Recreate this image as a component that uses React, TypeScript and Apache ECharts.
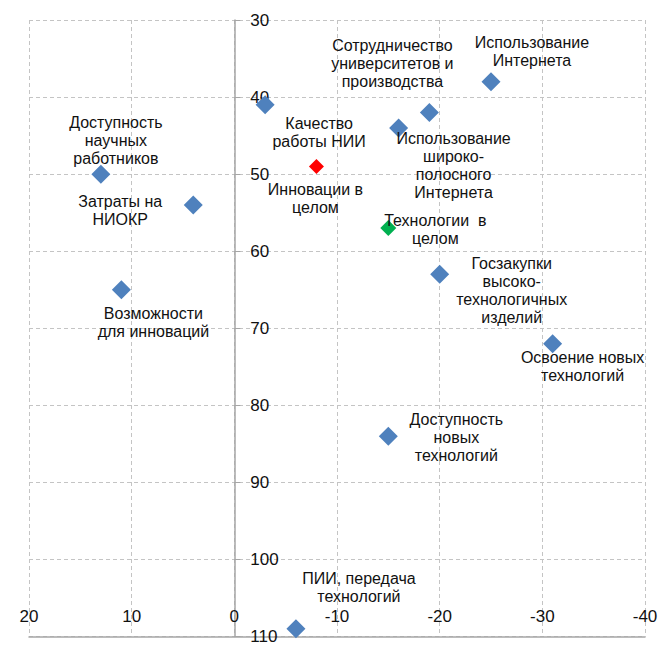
import React, { useEffect, useRef } from "react";
import * as echarts from "echarts";

// Data
const pointNames: string[] = [
  "Доступность\nнаучных\nработников",
  "Затраты на\nНИОКР",
  "Возможности\nдля инноваций",
  "Качество\nработы НИИ",
  "Сотрудничество\nуниверситетов и\nпроизводства",
  "Использование\nИнтернета",
  "Использование\nшироко-\nполосного\nИнтернета",
  "Госзакупки\nвысоко-\nтехнологичных\nизделий",
  "Освоение новых\nтехнологий",
  "Доступность\nновых\nтехнологий",
  "ПИИ, передача\nтехнологий",
];
const pointX: number[] = [13, 4, 11, -3, -19, -25, -16, -20, -31, -15, -6];
const pointY: number[] = [50, 54, 65, 41, 42, 38, 44, 63, 72, 84, 109];

const innovationName = "Инновации в\nцелом";
const innovationX = -8;
const innovationY = 49;

const technologyName = "Технологии  в\nцелом";
const technologyX = -15;
const technologyY = 57;

const xTicks = { min: -40, max: 20, interval: 10 };
const yTicks = { min: 30, max: 110, interval: 10 };

// Label placement (pixel offsets from marker centre) — styling only
const pointLabelOffsets: [number, number][] = [
  [15, -34],
  [-73, 6],
  [32, 33],
  [54, 28],
  [-37, -49],
  [41, -30],
  [55, 38],
  [72, 16],
  [30, 23],
  [68, 1],
  [63, -41],
];
const innovationOffset: [number, number] = [-1, 32];
const technologyOffset: [number, number] = [47, 1];

const FONT = "'Liberation Sans', Arial, sans-serif";
const TEXT_COLOR = "#111111";

const GRID_LEFT = 29;
const GRID_RIGHT = 16;
const CHART_W = 661;

const labelStyle = (offset: [number, number]) => ({
  show: true,
  position: "inside" as const,
  offset,
  align: "center" as const,
  verticalAlign: "middle" as const,
  color: TEXT_COLOR,
  fontFamily: FONT,
  fontSize: 16,
  lineHeight: 18,
  formatter: (p: any) => p.name,
});

export default function App() {
  const ref = useRef<HTMLDivElement>(null);

  useEffect(() => {
    if (!ref.current) return;
    const chart = echarts.init(ref.current, undefined, { renderer: "svg" });

    const mainData = pointNames.map((n, i) => ({
      name: n,
      value: [pointX[i], pointY[i]],
      label: labelStyle(pointLabelOffsets[i]),
    }));

    // y axis sits at x = 0 of the (inverted) x axis
    const plotW = CHART_W - GRID_LEFT - GRID_RIGHT;
    const zeroFrac = (xTicks.max - 0) / (xTicks.max - xTicks.min);
    const yAxisOffset = -plotW * zeroFrac;

    chart.setOption({
      animation: false,
      backgroundColor: "#ffffff",
      grid: { left: GRID_LEFT, right: GRID_RIGHT, top: 20, bottom: 4, containLabel: false },
      xAxis: {
        type: "value",
        min: xTicks.min,
        max: xTicks.max,
        interval: xTicks.interval,
        inverse: true,
        axisLine: { show: true, onZero: false, lineStyle: { color: "#A6A6A6", width: 1.5 } },
        axisTick: { show: false },
        axisLabel: {
          inside: true,
          margin: 12,
          color: TEXT_COLOR,
          fontFamily: FONT,
          fontSize: 17,
          showMinLabel: true,
          showMaxLabel: true,
        },
        splitLine: { show: true, lineStyle: { color: "#C4C4C4", type: [4, 3], width: 1 } },
      },
      yAxis: {
        type: "value",
        position: "left",
        offset: yAxisOffset,
        min: yTicks.min,
        max: yTicks.max,
        interval: yTicks.interval,
        inverse: true,
        axisLine: { show: true, onZero: false, lineStyle: { color: "#A6A6A6", width: 1.5 } },
        axisTick: { show: true, inside: true, length: 6, lineStyle: { color: "#A6A6A6" } },
        axisLabel: {
          inside: true,
          margin: 16,
          color: TEXT_COLOR,
          fontFamily: FONT,
          fontSize: 17,
          showMinLabel: true,
          showMaxLabel: true,
        },
        splitLine: { show: true, lineStyle: { color: "#C4C4C4", type: [4, 3], width: 1 } },
      },
      series: [
        {
          type: "scatter",
          symbol: "diamond",
          symbolSize: 19,
          itemStyle: { color: "#4F81BD", opacity: 1 },
          data: mainData,
          z: 3,
        },
        {
          type: "scatter",
          symbol: "diamond",
          symbolSize: 15,
          itemStyle: { color: "#FF0000", opacity: 1 },
          data: [
            { name: innovationName, value: [innovationX, innovationY], label: labelStyle(innovationOffset) },
          ],
          z: 3,
        },
        {
          type: "scatter",
          symbol: "diamond",
          symbolSize: 16,
          itemStyle: { color: "#00B050", opacity: 1 },
          data: [
            { name: technologyName, value: [technologyX, technologyY], label: labelStyle(technologyOffset) },
          ],
          z: 3,
        },
      ],
    });

    return () => chart.dispose();
  }, []);

  return (
    <div
      ref={ref}
      style={{ position: "fixed", left: 0, top: 0, width: CHART_W, height: 645, background: "#fff" }}
    />
  );
}
